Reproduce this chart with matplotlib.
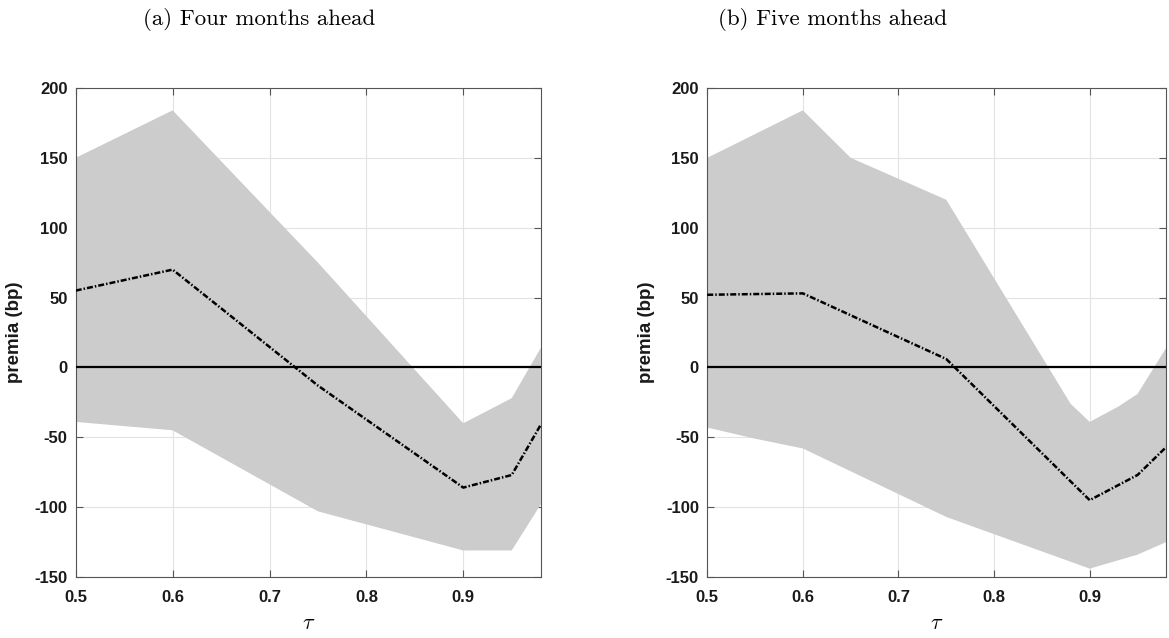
import numpy as np
import matplotlib
matplotlib.use("Agg")
from matplotlib import pyplot as plt

plt.rcParams['mathtext.fontset'] = 'cm'

# Panel (a): four months ahead
tau_a = [0.5, 0.6, 0.75, 0.9, 0.95, 0.98]
upper_a = [150, 184, 75, -40, -22, 14]
lower_a = [-39, -45, -103, -131, -131, -98]
mean_a = [55, 70, -13, -86, -77, -41]

# Panel (b): five months ahead
tau_b_up = [0.5, 0.6, 0.65, 0.75, 0.88, 0.9, 0.93, 0.95, 0.96, 0.98]
upper_b = [150, 184, 150, 120, -26, -39, -28, -19, -8, 14]
tau_b_lo = [0.5, 0.55, 0.6, 0.75, 0.9, 0.95, 0.98]
lower_b = [-43, -51, -58, -107, -144, -134, -125]
tau_b = [0.5, 0.6, 0.75, 0.9, 0.95, 0.98]
mean_b = [52, 53, 6, -95, -77, -57]

titles = ['(a) Four months ahead', '(b) Five months ahead']
xticks = [0.5, 0.6, 0.7, 0.8, 0.9]
yticks = [-150, -100, -50, 0, 50, 100, 150, 200]

fig = plt.figure(figsize=(11.69, 6.38), dpi=100)
ax1 = fig.add_axes([0.0648, 0.0956, 0.3978, 0.7665])
ax2 = fig.add_axes([0.605, 0.0956, 0.3926, 0.7665])

panels = [
    (ax1, tau_a, upper_a, tau_a, lower_a, tau_a, mean_a),
    (ax2, tau_b_up, upper_b, tau_b_lo, lower_b, tau_b, mean_b),
]

for ax, xu, yu, xl, yl, xm, ym in panels:
    # shaded band as one polygon: upper edge then lower edge reversed
    px = np.concatenate([xu, xl[::-1]])
    py = np.concatenate([yu, yl[::-1]])
    ax.fill(px, py, color='#cccccc', lw=0, zorder=1)
    ax.axhline(0, color='black', lw=1.6, zorder=3)
    ax.plot(xm, ym, color='black', lw=1.8, zorder=4,
            ls=(0, (2.4, 0.8, 0.6, 0.8)))

    ax.set_xlim(0.5, 0.98)
    ax.set_ylim(-150, 200)
    ax.set_xticks(xticks)
    ax.set_yticks(yticks)
    ax.set_xticklabels([f'{t:.1f}' for t in xticks])
    ax.set_yticklabels([str(t) for t in yticks])
    ax.set_axisbelow(True)
    ax.grid(True, color='#e3e3e3', lw=0.8)
    ax.tick_params(direction='in', length=5, width=0.8, colors='#555555',
                   labelcolor='#1a1a1a', top=True, right=True)
    ax.tick_params(axis='x', pad=9)
    ax.tick_params(axis='y', pad=6)
    for lab in ax.get_xticklabels() + ax.get_yticklabels():
        lab.set_fontfamily('Liberation Sans')
        lab.set_fontweight('bold')
        lab.set_fontsize(12)
    for s in ax.spines.values():
        s.set_color('#555555')
        s.set_linewidth(0.8)
    ax.set_ylabel('premia (bp)', fontfamily='Liberation Sans', fontweight='bold',
                  fontsize=13.5, color='#1a1a1a', labelpad=8)
    ax.set_xlabel(r'$\tau$', fontsize=16, labelpad=6)

fig.text(0.2216, 0.970, titles[0], family='cmr10', fontsize=16.5, ha='center', va='center')
fig.text(0.7126, 0.970, titles[1], family='cmr10', fontsize=16.5, ha='center', va='center')

fig.savefig('out.png', dpi=100)
